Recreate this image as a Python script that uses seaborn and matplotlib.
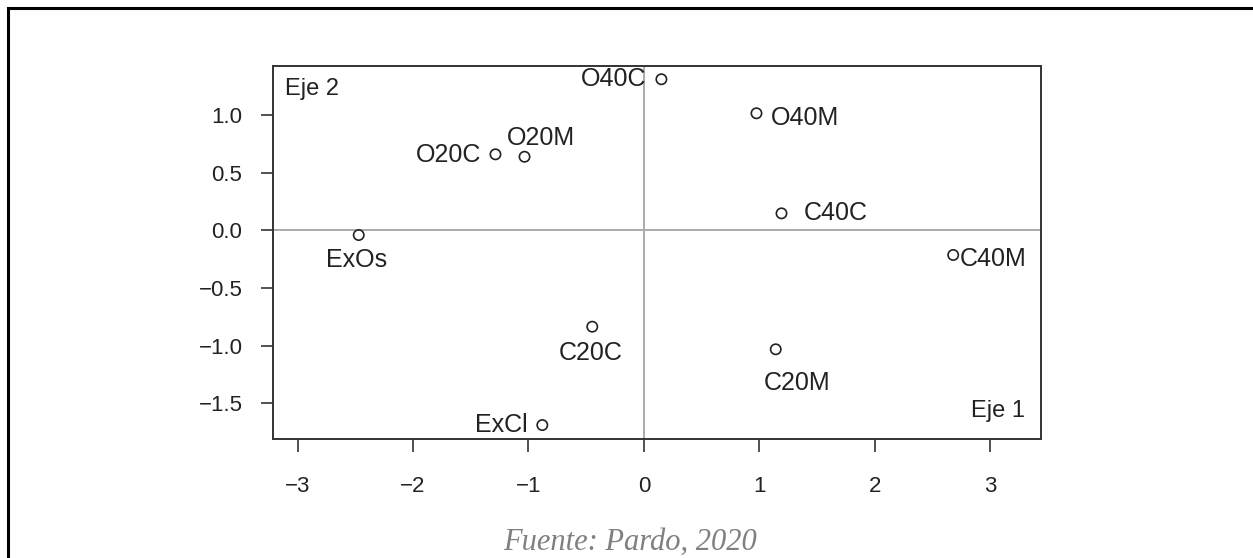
import matplotlib
matplotlib.use("Agg")
import matplotlib.pyplot as plt
import seaborn as sns
import pandas as pd
from matplotlib.patches import Rectangle

# ---- data ----
labels = ["O40C", "O40M", "O20C", "O20M", "ExOs", "C40C", "C40M", "C20C", "ExCl", "C20M"]
eje1 = [0.152, 0.976, -1.286, -1.034, -2.471, 1.193, 2.681, -0.447, -0.880, 1.143]
eje2 = [1.310, 1.015, 0.659, 0.638, -0.041, 0.147, -0.214, -0.836, -1.689, -1.032]
xticks = [-3, -2, -1, 0, 1, 2, 3]
yticks = [-1.5, -1.0, -0.5, 0.0, 0.5, 1.0]
caption = "Fuente: Pardo, 2020"

# label placement (offset pixels from point, horizontal alignment)
placement = {
    "O40C": (-15, -7, "right"),
    "O40M": (14, -11.5, "left"),
    "O20C": (-14, -8, "right"),
    "O20M": (16, 12, "center"),
    "ExOs": (-2, -32, "center"),
    "C40C": (22, -7, "left"),
    "C40M": (7, -11, "left"),
    "C20C": (-2, -33, "center"),
    "ExCl": (-15, -6.5, "right"),
    "C20M": (21, -41, "center"),
}

sns.set_style("white")
plt.rcParams["font.family"] = ["Liberation Sans", "DejaVu Sans"]

df = pd.DataFrame({"label": labels, "x": eje1, "y": eje2})

fig = plt.figure(figsize=(12.53, 5.58), dpi=100)
ax = fig.add_axes([273 / 1253, 1 - 439 / 558, 768 / 1253, 373 / 558])

ax.axhline(0, color="#aaaaaa", lw=1.4, zorder=1)
ax.axvline(0, color="#aaaaaa", lw=1.4, zorder=1)

sns.scatterplot(data=df, x="x", y="y", ax=ax, s=55, marker="o",
                color="black", linewidth=1.2, zorder=3, legend=False)
for coll in ax.collections:
    coll.set_facecolor("none")
    coll.set_edgecolor("#222222")

for lab, xv, yv in zip(labels, eje1, eje2):
    dx, dy, ha = placement[lab]
    ax.annotate(lab, (xv, yv), xytext=(dx, dy), textcoords="offset pixels",
                ha=ha, va="baseline", fontsize=18, color="#222222")

ax.text(0.0156, 0.922, "Eje 2", transform=ax.transAxes, ha="left",
        va="baseline", fontsize=17, color="#222222")
ax.text(0.979, 0.060, "Eje 1", transform=ax.transAxes, ha="right",
        va="baseline", fontsize=17, color="#222222")

ax.set_xlim(-3.214, 3.442)
ax.set_ylim(-1.81, 1.425)
ax.set_xticks(xticks)
ax.set_xticklabels(["\u22123", "\u22122", "\u22121", "0", "1", "2", "3"])
ax.set_yticks(yticks)
ax.set_yticklabels(["\u22121.5", "\u22121.0", "\u22120.5", "0.0", "0.5", "1.0"])
ax.set_xlabel("")
ax.set_ylabel("")
ax.tick_params(axis="both", direction="out", length=9, width=1.2,
               color="#333333", labelsize=16, labelcolor="#222222",
               bottom=True, left=True)
ax.tick_params(axis="x", pad=18)
ax.tick_params(axis="y", pad=13)
for sp in ax.spines.values():
    sp.set_visible(True)
    sp.set_color("#333333")
    sp.set_linewidth(1.4)

fig.text(630 / 1253, 1 - 550 / 558, caption, ha="center", va="baseline",
         fontsize=22, color="#808080", style="italic",
         family=["Liberation Serif", "DejaVu Serif"])

fig.patches.append(Rectangle((8 / 1253, -0.1), 1.2, 1 - 8 / 558 + 0.1,
                             transform=fig.transFigure, fill=False,
                             edgecolor="black", linewidth=2.2, zorder=10))

fig.savefig("out.png", dpi=100)
